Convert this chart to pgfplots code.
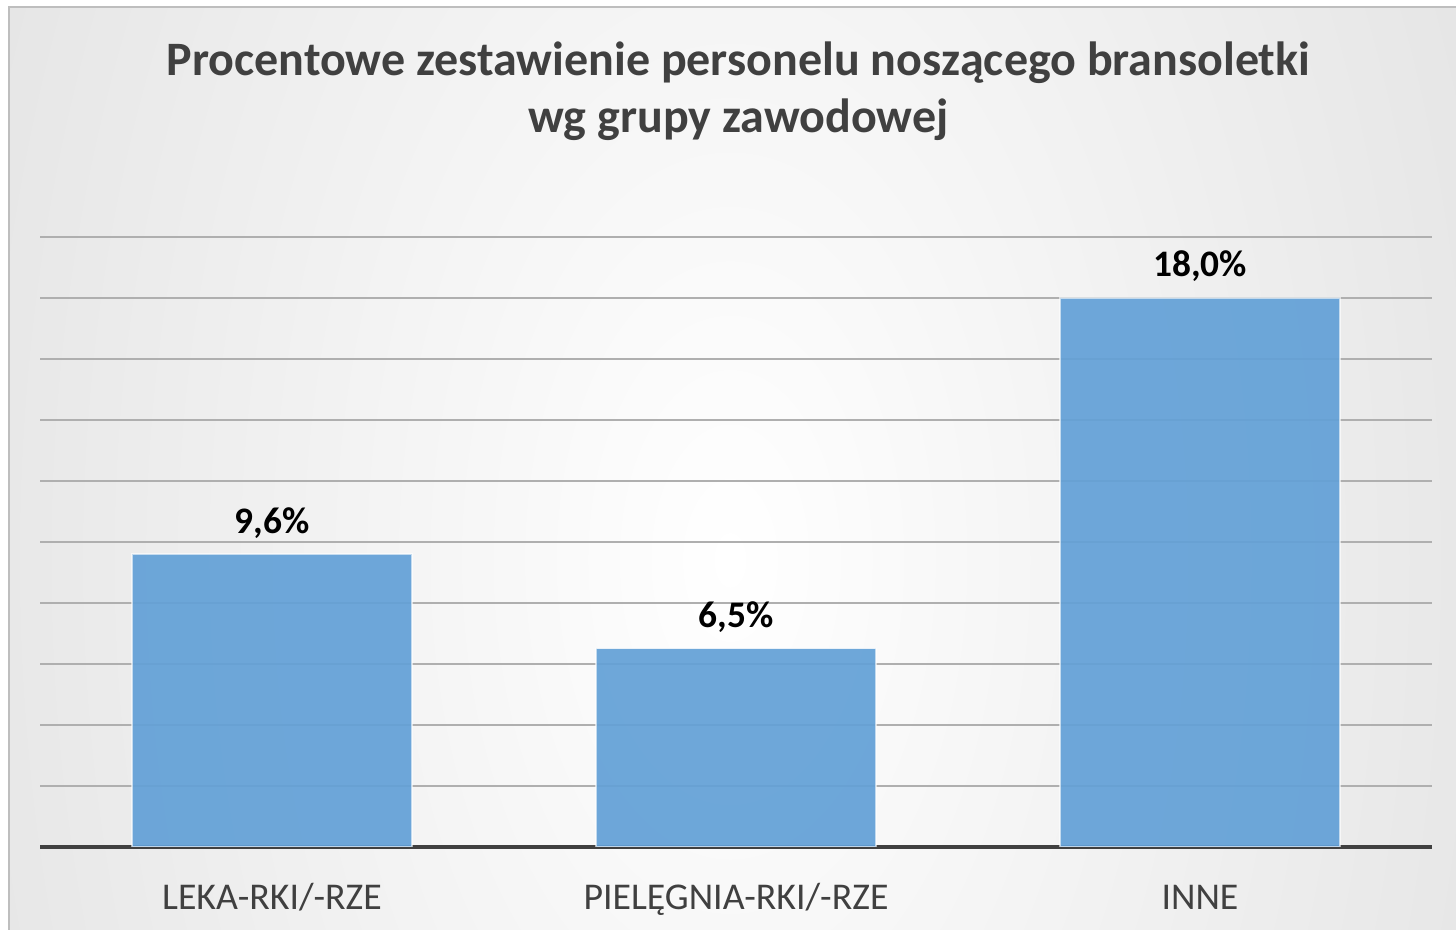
\documentclass[border=0pt]{standalone}
\usepackage{pgfplots}
\pgfplotsset{compat=1.18}
\usepackage{fontspec}
\setmainfont{Carlito}
\definecolor{titlegray}{RGB}{64,64,64}
\definecolor{bargray}{RGB}{175,175,175}
\definecolor{barblue}{RGB}{98,160,215}
\definecolor{bgedge}{RGB}{198,198,198}
\definecolor{borderc}{RGB}{190,190,190}
\pgfdeclareradialshading{bgshade}{\pgfpoint{0bp}{0bp}}{color(0bp)=(white); color(50bp)=(bgedge)}
\begin{document}
\begin{tikzpicture}
\useasboundingbox (0,0) rectangle (728bp,465bp);
\fill[white] (0,0) rectangle (728bp,465bp);
\begin{scope}
\clip (4.5bp,0) rectangle (728bp,461.5bp);
\shade[shading=bgshade] (-85bp,-590bp) rectangle (815bp,960bp);
\end{scope}
\draw[borderc, line width=0.8bp] (4.5bp,0) -- (4.5bp,461.5bp) -- (728bp,461.5bp);
\node[anchor=base, text=titlegray, font=\fontsize{24bp}{28bp}\selectfont\bfseries] at (369.25bp,427bp) {Procentowe zestawienie personelu noszącego bransoletki};
\node[anchor=base, text=titlegray, font=\fontsize{24bp}{28bp}\selectfont\bfseries] at (369.25bp,398.5bp) {wg grupy zawodowej};
\begin{axis}[
  at={(20bp,41.5bp)}, anchor=south west,
  scale only axis, width=696bp, height=305bp,
  xmin=-0.5, xmax=2.5, ymin=0, ymax=20,
  axis lines*=left,
  y axis line style={draw=none},
  x axis line style={draw=titlegray, line width=1.6bp},
  ytick={0,2,...,20}, yticklabels={}, ytick style={draw=none},
  xtick=data, xtick style={draw=none},
  xticklabels={LEKA-RKI/-RZE, PIELĘGNIA-RKI/-RZE, INNE},
  xticklabel style={anchor=base, yshift=-27bp, text=titlegray, font=\fontsize{18.9bp}{23bp}\selectfont},
  ymajorgrids, grid style={draw=bargray, line width=0.9bp},
  ybar, bar width=0.603,
  nodes near coords={\pgfmathprintnumber[fixed, fixed zerofill, precision=1, use comma]{\pgfplotspointmeta}\%},
  nodes near coords style={anchor=base, yshift=10.5bp, font=\fontsize{18.7bp}{23bp}\selectfont\bfseries, text=black},
  /pgf/number format/assume math mode=true,
]
\addplot[fill=barblue, fill opacity=0.92, draw=white, draw opacity=0.6, line width=0.7bp, text opacity=1] coordinates {(0,9.6) (1,6.5) (2,18.0)};
\end{axis}
\end{tikzpicture}
\end{document}
